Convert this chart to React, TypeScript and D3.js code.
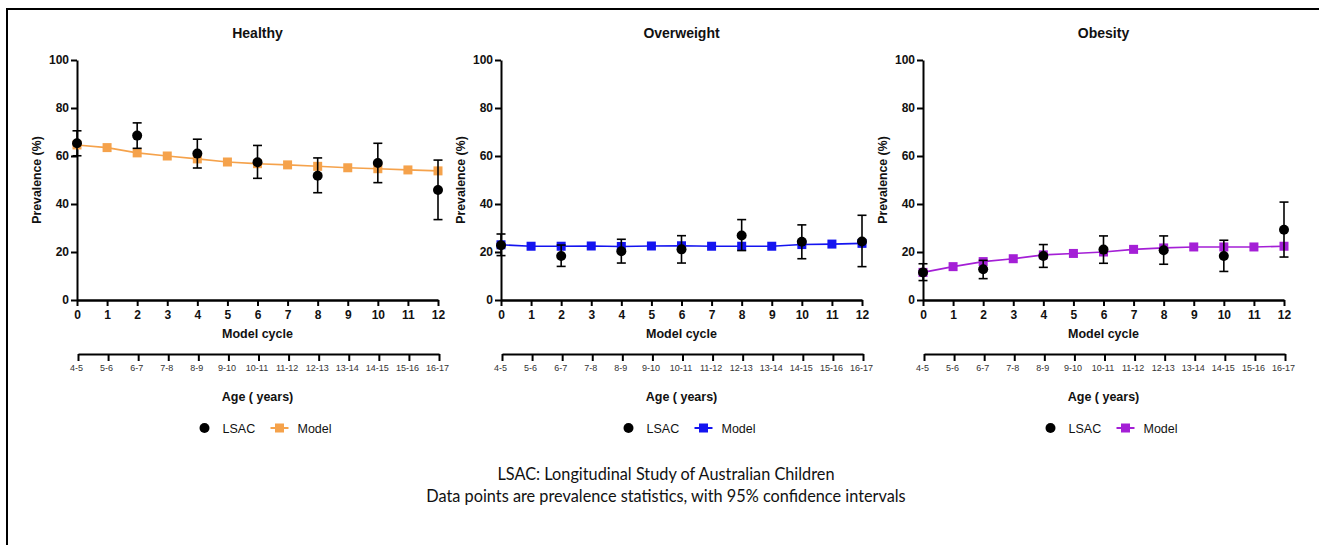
import React, { useRef, useEffect } from 'react';
import * as d3 from 'd3';

const cycles = [0, 1, 2, 3, 4, 5, 6, 7, 8, 9, 10, 11, 12];
const ageLabels = ['4-5', '5-6', '6-7', '7-8', '8-9', '9-10', '10-11', '11-12', '12-13', '13-14', '14-15', '15-16', '16-17'];
const lsacCycles = [0, 2, 4, 6, 8, 10, 12];
const yTicks = [0, 20, 40, 60, 80, 100];

const healthyModel = [64.6, 63.5, 61.3, 60.0, 58.8, 57.5, 56.8, 56.3, 55.7, 55.1, 54.7, 54.2, 53.8];
const healthyLsac = [65.3, 68.5, 61.0, 57.4, 51.8, 57.1, 45.8];
const healthyLow = [60.1, 63.2, 55.0, 50.7, 44.7, 48.9, 33.5];
const healthyHigh = [70.5, 73.8, 67.0, 64.4, 59.2, 65.3, 58.3];

const overweightModel = [23.0, 22.4, 22.4, 22.5, 22.3, 22.5, 22.6, 22.4, 22.4, 22.4, 23.1, 23.3, 23.6];
const overweightLsac = [22.8, 18.3, 20.3, 21.1, 26.9, 24.3, 24.4];
const overweightLow = [18.5, 14.0, 15.4, 15.4, 20.6, 17.2, 13.9];
const overweightHigh = [27.5, 22.9, 25.3, 26.8, 33.5, 31.3, 35.3];

const obesityModel = [11.5, 13.9, 16.0, 17.2, 18.8, 19.4, 20.0, 21.1, 21.7, 22.1, 22.1, 22.1, 22.4];
const obesityLsac = [11.5, 12.8, 18.3, 21.0, 20.7, 18.3, 29.3];
const obesityLow = [8.1, 8.9, 13.6, 15.3, 14.9, 11.9, 17.9];
const obesityHigh = [15.1, 16.5, 23.1, 26.7, 26.7, 24.9, 40.8];

const panels = [
  { title: 'Healthy', color: '#F5A24B', left: 77, model: healthyModel, lsac: healthyLsac, low: healthyLow, high: healthyHigh },
  { title: 'Overweight', color: '#1414F0', left: 501, model: overweightModel, lsac: overweightLsac, low: overweightLow, high: overweightHigh },
  { title: 'Obesity', color: '#A41FD6', left: 923, model: obesityModel, lsac: obesityLsac, low: obesityLow, high: obesityHigh },
];

const W = 1319;
const H = 545;
const FONT = "'Liberation Sans', Arial, sans-serif";

const App = () => {
  const ref = useRef(null);

  useEffect(() => {
    const svg = d3.select(ref.current);
    svg.selectAll('*').remove();

    svg.append('rect').attr('width', W).attr('height', H).attr('fill', 'white');
    // frame (top and left edges only)
    svg.append('line').attr('x1', 6).attr('x2', W).attr('y1', 9).attr('y2', 9)
      .attr('stroke', 'black').attr('stroke-width', 2);
    svg.append('line').attr('x1', 7).attr('x2', 7).attr('y1', 8).attr('y2', H)
      .attr('stroke', 'black').attr('stroke-width', 2);

    const plotW = 361;
    const top = 60;
    const bottom = 300;

    panels.forEach(p => {
      const x = d3.scaleLinear().domain([0, 12]).range([p.left, p.left + plotW]);
      const y = d3.scaleLinear().domain([0, 100]).range([bottom, top]);
      const cx = p.left + plotW / 2;
      const g = svg.append('g').attr('font-family', FONT);

      g.append('text').attr('x', cx).attr('y', 37.5).attr('text-anchor', 'middle')
        .attr('font-size', 14).attr('font-weight', 'bold').attr('fill', '#111').text(p.title);

      // y axis
      const ya = g.append('g').attr('transform', `translate(${p.left},0)`)
        .call(d3.axisLeft(y).tickValues(yTicks).tickSize(6).tickSizeOuter(0).tickPadding(2));
      ya.select('.domain').attr('stroke-width', 2);
      ya.selectAll('line').attr('stroke-width', 2);
      ya.selectAll('text').attr('font-size', 12).attr('font-weight', 'bold')
        .attr('font-family', FONT).attr('fill', '#111');

      g.append('text')
        .attr('transform', `translate(${p.left - 40},${(top + bottom) / 2}) rotate(-90)`)
        .attr('text-anchor', 'middle').attr('dy', '0.35em')
        .attr('font-size', 12.3).attr('font-weight', 'bold').attr('fill', '#111').text('Prevalence (%)');

      // model cycle axis
      const xa = g.append('g').attr('transform', `translate(0,${bottom})`)
        .call(d3.axisBottom(x).tickValues(cycles).tickFormat(d3.format('d')).tickSize(6).tickSizeOuter(0).tickPadding(4));
      xa.select('.domain').attr('stroke-width', 2.5);
      xa.selectAll('line').attr('stroke-width', 2);
      xa.selectAll('text').attr('font-size', 12).attr('font-weight', 'bold')
        .attr('font-family', FONT).attr('fill', '#111');

      g.append('text').attr('x', cx).attr('y', 338).attr('text-anchor', 'middle')
        .attr('font-size', 12.5).attr('font-weight', 'bold').attr('fill', '#111').text('Model cycle');

      // age axis
      const aa = g.append('g').attr('transform', `translate(1,354)`)
        .call(d3.axisBottom(x).tickValues(cycles).tickFormat((d, i) => ageLabels[i]).tickSize(7).tickSizeOuter(0).tickPadding(4));
      aa.select('.domain').attr('stroke-width', 2);
      aa.selectAll('line').attr('stroke-width', 2);
      aa.selectAll('text').attr('font-size', 9).attr('font-family', FONT).attr('fill', '#333')
        .attr('dx', -2);

      g.append('text').attr('x', cx).attr('y', 401).attr('text-anchor', 'middle')
        .attr('font-size', 12.5).attr('font-weight', 'bold').attr('fill', '#111').text('Age ( years)');

      // model line
      const line = d3.line<number>().x((d, i) => x(cycles[i])).y(d => y(d));
      g.append('path').datum(p.model).attr('d', line).attr('fill', 'none')
        .attr('stroke', p.color).attr('stroke-width', 1.6);
      g.selectAll('.sq').data(p.model).enter().append('rect')
        .attr('x', (d, i) => x(cycles[i]) - 4.5).attr('y', d => y(d) - 4.5)
        .attr('width', 9).attr('height', 9).attr('fill', p.color);

      // LSAC points with error bars
      lsacCycles.forEach((c, i) => {
        const px = x(c);
        g.append('line').attr('x1', px).attr('x2', px).attr('y1', y(p.low[i])).attr('y2', y(p.high[i]))
          .attr('stroke', 'black').attr('stroke-width', 1.6);
        [p.low[i], p.high[i]].forEach(v => {
          g.append('line').attr('x1', px - 4.5).attr('x2', px + 4.5).attr('y1', y(v)).attr('y2', y(v))
            .attr('stroke', 'black').attr('stroke-width', 1.6);
        });
        g.append('circle').attr('cx', px).attr('cy', y(p.lsac[i])).attr('r', 5).attr('fill', 'black');
      });

      // legend
      g.append('circle').attr('cx', cx - 53).attr('cy', 428).attr('r', 5).attr('fill', 'black');
      g.append('text').attr('x', cx - 35).attr('y', 432.5).attr('font-size', 12.5).attr('fill', '#111').text('LSAC');
      g.append('line').attr('x1', cx + 13).attr('x2', cx + 31).attr('y1', 428).attr('y2', 428)
        .attr('stroke', p.color).attr('stroke-width', 2);
      g.append('rect').attr('x', cx + 17.5).attr('y', 423.5).attr('width', 9).attr('height', 9).attr('fill', p.color);
      g.append('text').attr('x', cx + 40).attr('y', 432.5).attr('font-size', 12.5).attr('fill', '#111').text('Model');
    });

    // footnote
    const foot = svg.append('g').attr('font-family', "Lato, 'Open Sans', sans-serif")
      .attr('font-size', 16.3).attr('text-anchor', 'middle').attr('fill', '#111');
    foot.append('text').attr('x', 666).attr('y', 480).text('LSAC: Longitudinal Study of Australian Children');
    foot.append('text').attr('x', 666).attr('y', 501.5).text('Data points are prevalence statistics, with 95% confidence intervals');
  }, []);

  return (
    <svg ref={ref} width={W} height={H} style={{ position: 'absolute', left: 0, top: 0 }}></svg>
  );
};

export default App;
